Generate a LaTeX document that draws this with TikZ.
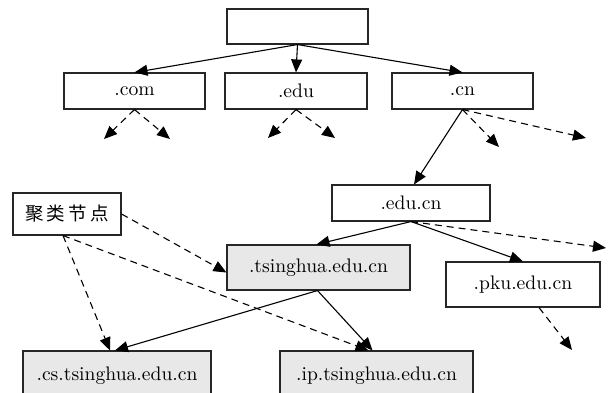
\documentclass[tikz,border=0pt]{standalone}
\usepackage{fontspec}
\newfontfamily\cjk{Noto Sans CJK SC}
\usetikzlibrary{arrows.meta}
\definecolor{boxgray}{RGB}{232,232,232}
\newcommand\Tx[1]{\scalebox{1.96}{#1}}
\tikzset{
  box/.style={draw=black!85, line width=1.1pt, inner sep=0pt, font=\fontsize{10}{12}\selectfont},
  gbox/.style={box, fill=boxgray},
  link/.style={line width=1.1pt, -{Triangle[length=13pt,width=11pt]}},
  dlink/.style={link, dash pattern=on 7pt off 5pt},
}
\begin{document}
\begin{tikzpicture}[x=1pt,y=-1pt]
\useasboundingbox (0,0) rectangle (614,392);
\clip (0,0) rectangle (614,392);
% nodes
\node[box, minimum width=141pt, minimum height=35pt] (root) at (297.5,26.5) {};
\node[box, minimum width=141pt, minimum height=36pt] (com) at (134.5,91) {\Tx{.com}};
\node[box, minimum width=142pt, minimum height=36pt] (edu) at (296,91) {\Tx{.edu}};
\node[box, minimum width=141pt, minimum height=36pt] (cn) at (462.5,91) {\Tx{.cn}};
\node[box, minimum width=158pt, minimum height=36pt] (educn) at (411,203) {\Tx{.edu.cn}};
\node[box, minimum width=108pt, minimum height=42pt, font=\fontsize{18.5}{22}\cjk] (jl) at (67,214) {聚\,类\,节\,点};
\node[gbox, minimum width=183pt, minimum height=45pt] (ts) at (318.5,267.5) {\Tx{.tsinghua.edu.cn}};
\node[box, minimum width=154pt, minimum height=45pt] (pku) at (523,284.5) {\Tx{.pku.edu.cn}};
\node[gbox, minimum width=188pt, minimum height=50pt, text depth=0pt] (cs) at (117,376) {\raisebox{5pt}{\Tx{.cs.tsinghua.edu.cn}}};
\node[gbox, minimum width=193pt, minimum height=50pt, text depth=0pt] (ip) at (376.5,376) {\raisebox{5pt}{\Tx{.ip.tsinghua.edu.cn}}};
% free ends
\coordinate (c1) at (104,139);
\coordinate (c2) at (170,139);
\coordinate (e1) at (268,138);
\coordinate (e2) at (335,138);
\coordinate (n1) at (499,147);
\coordinate (n2) at (586,138);
\coordinate (u1) at (606,248);
\coordinate (p1) at (572,350);
% solid tree links
\draw[link] (root.south) -- (com.north);
\draw[link] (root.south) -- (edu.north);
\draw[link] (root.south) -- (cn.north);
\draw[link] (cn.south) -- ([xshift=3pt]educn.north);
\draw[link] (educn.south) -- ([xshift=-2pt]ts.north);
\draw[link] (educn.south) -- (pku.north);
\draw[link] ([xshift=-1pt]ts.south) -- ([xshift=-2pt]cs.north);
\draw[link] ([xshift=-1pt]ts.south) -- ([xshift=-4pt]ip.north);
% dashed links
\draw[dlink] (com.south) -- (c1);
\draw[dlink] (com.south) -- (c2);
\draw[dlink] (edu.south) -- (e1);
\draw[dlink] (edu.south) -- (e2);
\draw[dlink] (cn.south) -- (n1);
\draw[dlink] (cn.south) -- (n2);
\draw[dlink] (educn.south) -- (u1);
\draw[dlink] ([xshift=16pt]pku.south) -- (p1);
\draw[dlink] (jl.east) -- ([yshift=-5pt]ts.west);
\draw[dlink] ([xshift=-4pt]jl.south) -- ([xshift=-7pt]cs.north);
\draw[dlink] ([xshift=-4pt]jl.south) -- ([xshift=-8pt]ip.north);
\end{tikzpicture}
\end{document}
